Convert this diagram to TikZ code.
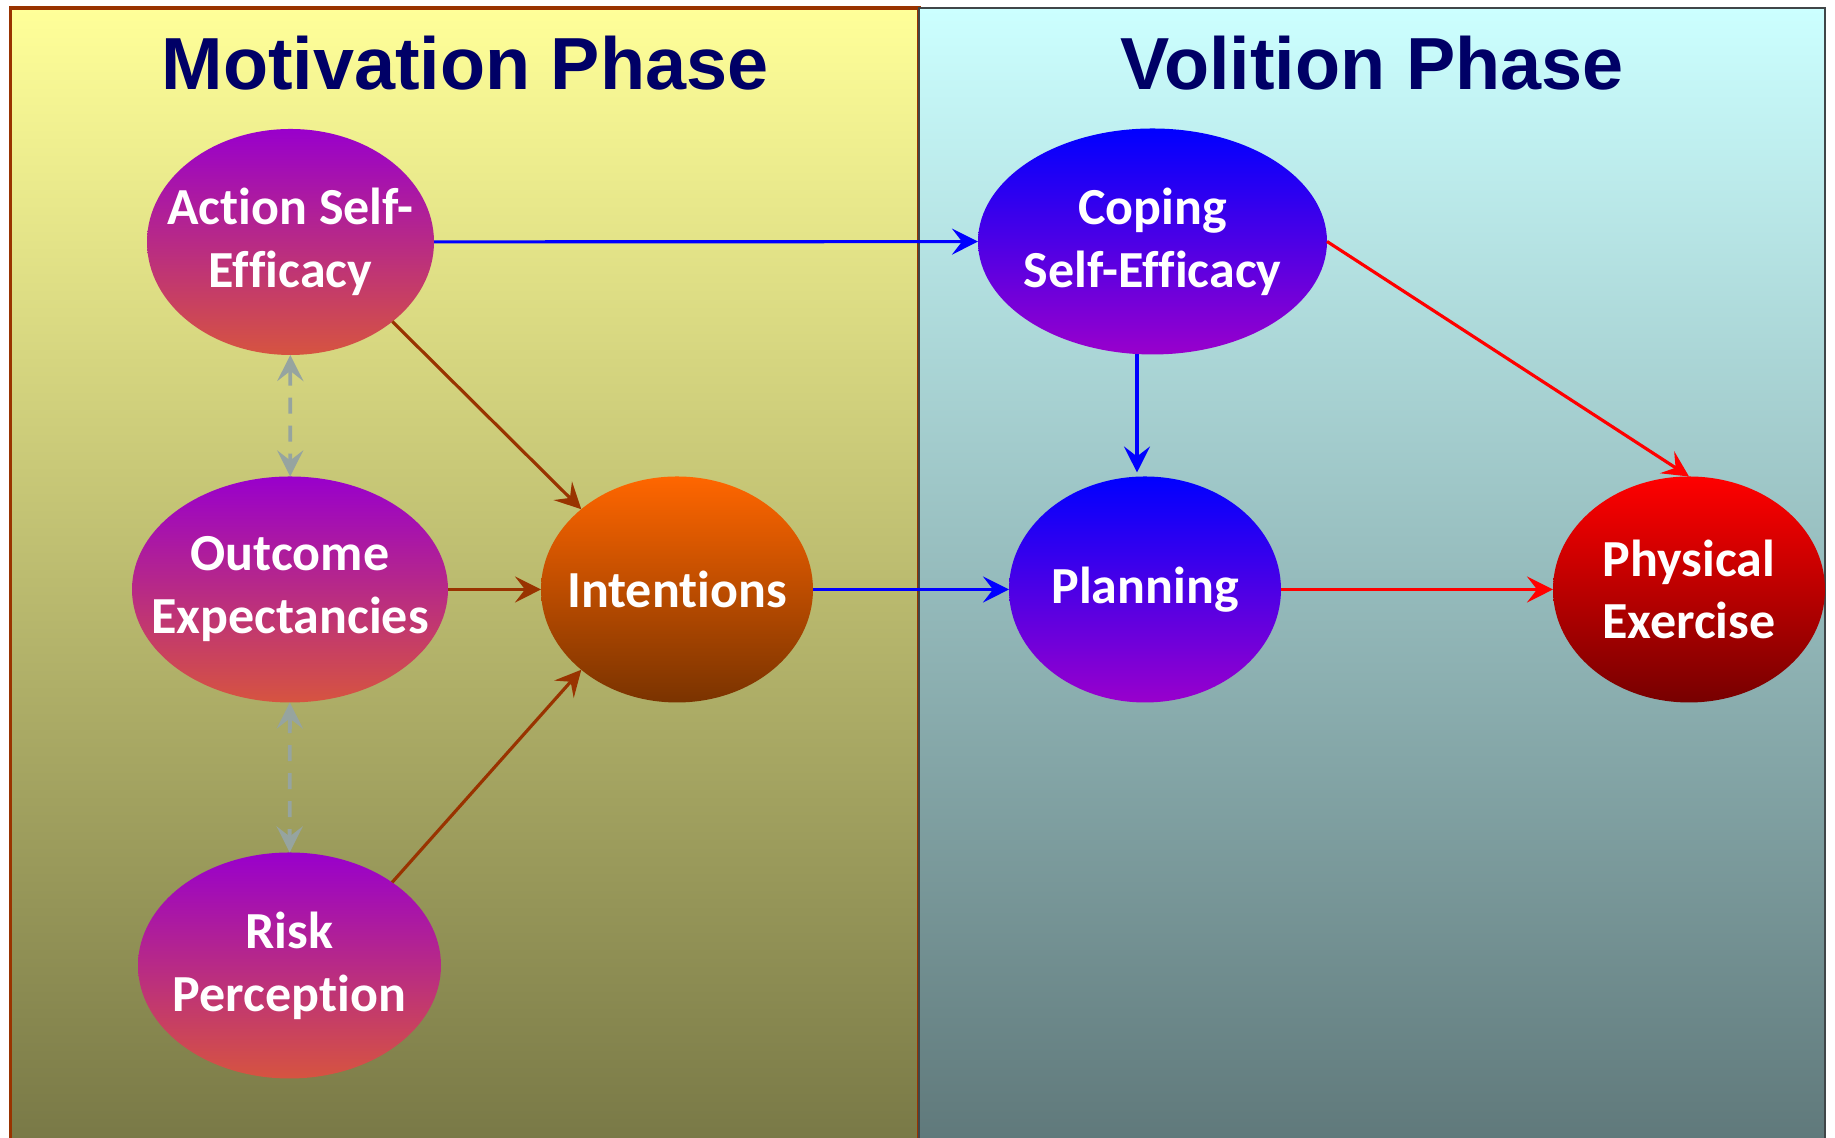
\documentclass[tikz,border=0pt]{standalone}
\usepackage{fontspec}
\setmainfont{Carlito}[Ligatures=NoCommon]
\newfontfamily\headfont{Liberation Sans}
\usetikzlibrary{arrows.meta,%
                shapes.geometric}

\definecolor{headblue}{RGB}{0,0,102}
\definecolor{motframe}{RGB}{153,51,0}
\definecolor{volframe}{RGB}{64,70,72}
\definecolor{mottop}{RGB}{255,255,153}
\definecolor{motmid}{RGB}{210,210,126}
\definecolor{motbot}{RGB}{120,120,70}
\definecolor{voltop}{RGB}{204,255,255}
\definecolor{volmid}{RGB}{164,208,208}
\definecolor{volbot}{RGB}{95,120,122}
\definecolor{purp}{RGB}{153,0,204}
\definecolor{salmon}{RGB}{214,84,64}
\definecolor{orng}{RGB}{255,102,0}
\definecolor{darkorng}{RGB}{122,51,0}
\definecolor{darkred}{RGB}{119,0,0}
\definecolor{arrowbrown}{RGB}{153,51,0}
\definecolor{arrowgray}{RGB}{150,164,160}

\tikzset{
  phasetitle/.style={anchor=base,text=headblue,font=\headfont\bfseries\fontsize{21}{25}\selectfont},
  factor/.style={ellipse,inner sep=-0.5cm,outer sep=0pt,align=center,text=white,
                 font=\bfseries\fontsize{14.8}{17.9}\selectfont,minimum height=2.26cm},
  motfactor/.style={factor,top color=purp,bottom color=salmon},
  volfactor/.style={factor,top color=blue,bottom color=purp},
  brownarrow/.style={->,draw=arrowbrown,line width=0.9pt},
  bluearrow/.style={->,draw=blue,line width=0.9pt},
  redarrow/.style={->,draw=red,line width=0.9pt},
  grayarrow/.style={<->,draw=arrowgray,line width=1.1pt,dash pattern=on 0.16cm off 0.12cm}
}

\begin{document}
\begin{tikzpicture}
  [>={Stealth[length=0.26cm,width=0.26cm,inset=0.1cm]}]
  \fill[white] (0,0) rectangle (18.35,11.38);
  \useasboundingbox (0,0) rectangle (18.35,11.38);
  % the two phases
  \shade[top color=mottop,middle color=motmid,bottom color=motbot] (0.105,-0.1) rectangle (9.19,11.30);
  \draw[motframe,line width=1.1pt] (0.105,-0.1) rectangle (9.19,11.30);
  \shade[top color=voltop,middle color=volmid,bottom color=volbot] (9.19,-0.1) rectangle (18.25,11.30);
  \draw[volframe,line width=0.6pt] (9.19,-0.1) rectangle (18.25,11.30);
  \node[phasetitle] (mottitle) at (4.65,10.48) {Motivation Phase};
  \node[phasetitle] (voltitle) at (13.72,10.48) {Volition Phase};
  % factors
  \node[motfactor,minimum width=2.87cm] (ase) at (2.905,8.96)  {Action Self-\\Efficacy};
  \node[motfactor,minimum width=3.16cm] (oe)  at (2.90,5.485)  {Outcome\\Expectancies};
  \node[motfactor,minimum width=3.03cm] (rp)  at (2.895,1.725) {Risk\\Perception};
  \node[factor,minimum width=2.72cm,top color=orng,bottom color=darkorng] (int) at (6.77,5.485) {Intentions};
  \node[volfactor,minimum width=3.49cm] (cse) at (11.525,8.965) {Coping\\Self-Efficacy};
  \node[volfactor,minimum width=2.72cm] (pl)  at (11.45,5.485)  {Planning};
  \node[factor,minimum width=2.72cm,shading angle=45,top color=red,bottom color=darkred] (pe) at (16.89,5.485) {Physical\\Exercise};
  % paths
  \foreach \from/\to in {ase.-38/int.140,oe/int,rp.39/int.220}
    \draw[brownarrow] (\from) -- (\to);
  \foreach \from/\to in {ase/oe,oe/rp}
    \draw[grayarrow] (\from) -- (\to);
  \foreach \from/\to in {ase/cse,int/pl}
    \draw[bluearrow] (\from) -- (\to);
  \draw[bluearrow] ([xshift=-0.155cm]cse.south) -- ([xshift=-0.08cm,yshift=0.04cm]pl.north);
  \foreach \from/\to in {cse.east/pe.north,pl/pe}
    \draw[redarrow] (\from) -- (\to);
\end{tikzpicture}
\end{document}
